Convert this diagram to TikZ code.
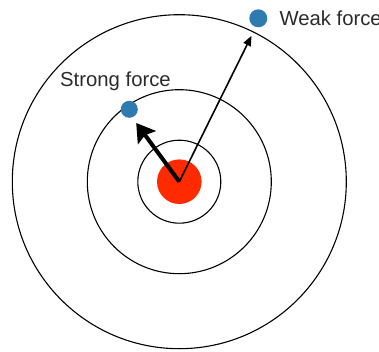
\documentclass[tikz,border=0pt]{standalone}
\usepackage{fontspec}
\setmainfont{Liberation Sans}
\definecolor{nucleus}{HTML}{FF2A00}
\definecolor{particle}{HTML}{2E7BB0}
\definecolor{ink}{HTML}{2B2B2B}
\usetikzlibrary{arrows.meta,positioning}

\begin{document}
\begin{tikzpicture}[x=1pt,y=-1pt]
\useasboundingbox (0,0) rectangle (379,352);
\foreach \r in {41.5,92,167} {
\draw[line width=1.1pt] (179.3,181.7) circle (\r pt);}
\node[circle,fill=nucleus,minimum size=44.6pt,inner sep=0pt] (core) at (179.3,181.7) {};
\node[circle,fill=particle,minimum size=17pt,inner sep=0pt] (strong) at (129.3,109.3) {};
\node[circle,fill=particle,minimum size=18pt,inner sep=0pt] (weak) at (258.3,18.3) {};
\node[anchor=base west,inner sep=0pt,font=\fontsize{20.3}{24}\selectfont,text=ink] (strongtxt) at (60,87) {Strong force};
\node[anchor=base west,inner sep=0pt,font=\fontsize{20.3}{24}\selectfont,text=ink] (weaktxt) at (279.3,26) {Weak force};
\coordinate (strongtip) at (136.2,123);
\coordinate (weaktip) at (251.5,35.8);
\draw[line width=4pt,-{Stealth[length=18pt,width=22pt,inset=3pt]}] (core.center) -- (strongtip);
\draw[line width=1.6pt,-{Triangle[length=10pt,width=8pt]}] (core.center) -- (weaktip);
\end{tikzpicture}
\end{document}
